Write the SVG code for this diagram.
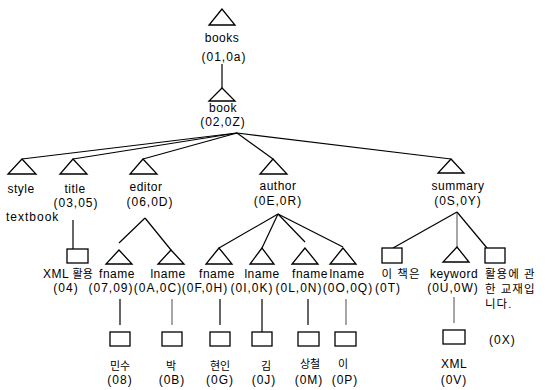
<svg xmlns="http://www.w3.org/2000/svg" width="550" height="390" viewBox="0 0 550 390">
<style>
  .tri, .box { fill: #fff; stroke: #000; stroke-width: 1.3; stroke-linejoin: miter; }
  .ln { stroke: #000; stroke-width: 1.2; fill: none; }
  .thin { stroke: #000; stroke-width: 0.7; fill: none; }
  text { font-family: "Liberation Sans", "Noto Sans CJK KR", sans-serif; font-size: 12px; letter-spacing: 0.5px; fill: #000; }
  .c { text-anchor: middle; }
  .code { letter-spacing: 1px; }
  .ko { font-size: 11px; letter-spacing: 0; }
  .kos { font-size: 11.5px; letter-spacing: 1px; }
</style>
<rect width="550" height="390" fill="#fff"/>

<g id="connectors">
  <line class="ln" x1="222" y1="64" x2="222" y2="88"/>
  <line class="ln" x1="237" y1="133" x2="22" y2="159"/>
  <line class="ln" x1="237" y1="133" x2="73" y2="159"/>
  <line class="ln" x1="237" y1="133" x2="143" y2="159"/>
  <line class="ln" x1="237" y1="133" x2="273" y2="159"/>
  <line class="ln" x1="237" y1="133" x2="451" y2="159"/>
  <line class="ln" x1="73" y1="220" x2="73" y2="249"/>
  <line class="ln" x1="145" y1="218" x2="119" y2="243"/>
  <line class="ln" x1="145" y1="218" x2="171" y2="250"/>
  <line class="ln" x1="278" y1="214" x2="219" y2="248"/>
  <line class="ln" x1="278" y1="214" x2="262" y2="248"/>
  <line class="ln" x1="278" y1="214" x2="305" y2="242"/>
  <line class="ln" x1="278" y1="214" x2="343" y2="247"/>
  <line class="ln" x1="457" y1="212" x2="393" y2="248"/>
  <line class="thin" x1="457" y1="212" x2="457" y2="247"/>
  <line class="ln" x1="457" y1="212" x2="487" y2="248"/>
  <line class="ln" x1="120" y1="299" x2="120" y2="325"/>
  <line class="thin" x1="172" y1="299" x2="172" y2="325"/>
  <line class="ln" x1="220" y1="299" x2="220" y2="325"/>
  <line class="ln" x1="262" y1="299" x2="262" y2="332"/>
  <line class="ln" x1="308" y1="299" x2="308" y2="325"/>
  <line class="thin" x1="346" y1="299" x2="346" y2="325"/>
  <line class="thin" x1="454" y1="297" x2="454" y2="323"/>
</g>

<g id="books">
  <polygon class="tri" points="222,9 209,25 235,25"/>
  <text class="c" x="222" y="42">books</text>
  <text class="c code" x="224" y="61">(01,0a)</text>
</g>

<g id="book">
  <polygon class="tri" points="222,88 209,101 235,101"/>
  <text class="c" x="223" y="112">book</text>
  <text class="c code" x="223" y="126">(02,0Z)</text>
</g>

<g id="style">
  <polygon class="tri" points="22,159 8,174 36,174"/>
  <text class="c" x="21" y="193">style</text>
  <text x="6" y="221" style="letter-spacing:1px">textbook</text>
</g>

<g id="title">
  <polygon class="tri" points="73,159 60,174 87,174"/>
  <text class="c" x="75" y="193">title</text>
  <text class="c code" x="76" y="207">(03,05)</text>
</g>

<g id="title-text">
  <rect class="box" x="67" y="249" width="21" height="14"/>
  <text x="43" y="278">XML <tspan class="ko">활용</tspan></text>
  <text class="c code" x="66" y="292">(04)</text>
</g>

<g id="editor">
  <polygon class="tri" points="143,159 130,174 157,174"/>
  <text class="c" x="146" y="191">editor</text>
  <text class="c code" x="150" y="206">(06,0D)</text>
</g>

<g id="editor-fname">
  <polygon class="tri" points="119,250 106,264 132,264"/>
  <text class="c" x="117" y="278">fname</text>
  <text class="c code" x="111" y="292">(07,09)</text>
</g>

<g id="editor-fname-text">
  <rect class="box" x="110" y="332" width="20" height="14"/>
  <text class="c ko" x="120" y="370">민수</text>
  <text class="c code" x="120" y="384">(08)</text>
</g>

<g id="editor-lname">
  <polygon class="tri" points="171,250 158,264 184,264"/>
  <text class="c" x="168" y="278">lname</text>
  <text class="c code" x="158" y="292">(0A,0C)</text>
</g>

<g id="editor-lname-text">
  <rect class="box" x="162" y="332" width="20" height="14"/>
  <text class="c ko" x="171" y="370">박</text>
  <text class="c code" x="172" y="384">(0B)</text>
</g>

<g id="author">
  <polygon class="tri" points="273,159 260,174 287,174"/>
  <text class="c" x="278" y="190">author</text>
  <text class="c code" x="278" y="205">(0E,0R)</text>
</g>

<g id="author-fname1">
  <polygon class="tri" points="219,248 206,264 232,264"/>
  <text class="c" x="217" y="278">fname</text>
  <text class="c code" x="205" y="292">(0F,0H)</text>
</g>

<g id="author-fname1-text">
  <rect class="box" x="210" y="332" width="20" height="14"/>
  <text class="c ko" x="220" y="370">현인</text>
  <text class="c code" x="220" y="384">(0G)</text>
</g>

<g id="author-lname1">
  <polygon class="tri" points="262,248 250,264 274,264"/>
  <text class="c" x="262" y="278">lname</text>
  <text class="c code" x="252" y="292">(0I,0K)</text>
</g>

<g id="author-lname1-text">
  <rect class="box" x="252" y="332" width="20" height="14"/>
  <text class="c ko" x="266" y="370">김</text>
  <text class="c code" x="264" y="384">(0J)</text>
</g>

<g id="author-fname2">
  <polygon class="tri" points="305,248 292,264 318,264"/>
  <text class="c" x="310" y="278">fname</text>
  <text class="c code" x="299" y="292">(0L,0N)</text>
</g>

<g id="author-fname2-text">
  <rect class="box" x="298" y="332" width="21" height="14"/>
  <text class="c ko" x="310" y="368">상철</text>
  <text class="c code" x="309" y="384">(0M)</text>
</g>

<g id="author-lname2">
  <polygon class="tri" points="343,248 330,264 356,264"/>
  <text class="c" x="347" y="278">lname</text>
  <text class="c code" x="348" y="292">(0O,0Q)</text>
</g>

<g id="author-lname2-text">
  <rect class="box" x="335" y="332" width="21" height="14"/>
  <text class="c ko" x="343" y="368">이</text>
  <text class="c code" x="345" y="384">(0P)</text>
</g>

<g id="summary">
  <polygon class="tri" points="451,159 438,173 464,173"/>
  <text class="c" x="458" y="190">summary</text>
  <text class="c code" x="458" y="205">(0S,0Y)</text>
</g>

<g id="summary-text1">
  <rect class="box" x="382" y="248" width="20" height="15"/>
  <text class="c kos" x="401" y="278">이 책은</text>
  <text class="c code" x="388" y="292">(0T)</text>
</g>

<g id="keyword">
  <polygon class="tri" points="457,247 443,262 469,262"/>
  <text class="c" x="454" y="278">keyword</text>
  <text class="c code" x="453" y="292">(0U,0W)</text>
</g>

<g id="keyword-text">
  <rect class="box" x="443" y="330" width="22" height="14"/>
  <text class="c" x="454" y="368">XML</text>
  <text class="c code" x="454" y="384">(0V)</text>
</g>

<g id="summary-text2">
  <rect class="box" x="485" y="248" width="20" height="15"/>
  <text class="kos" x="485" y="278">활용에 관</text>
  <text class="kos" x="485" y="293">한 교재입</text>
  <text class="kos" x="485" y="308">니다.</text>
  <text class="code" x="489" y="344">(0X)</text>
</g>
</svg>
